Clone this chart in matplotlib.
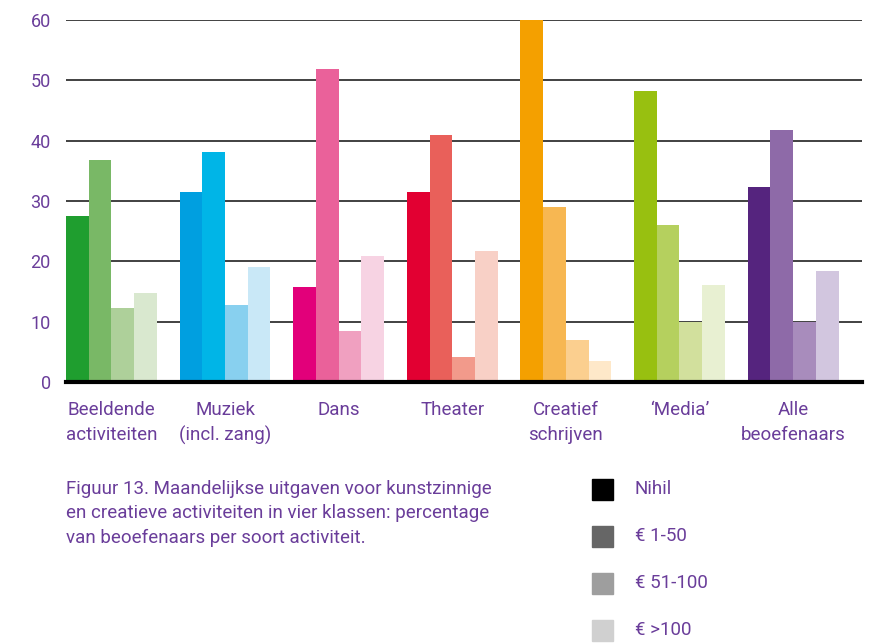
import matplotlib
matplotlib.use("Agg")
import matplotlib.pyplot as plt
import numpy as np

plt.rcParams['font.family'] = ['Roboto', 'DejaVu Sans']

# categories and the four spending classes
categories = ["Beeldende\nactiviteiten", "Muziek\n(incl. zang)", "Dans", "Theater",
              "Creatief\nschrijven", "\u2018Media\u2019", "Alle\nbeoefenaars"]
classes = ["Nihil", "\u20ac 1-50", "\u20ac 51-100", "\u20ac >100"]

nihil = [27.5, 31.5, 15.7, 31.5, 60.0, 48.2, 32.3]
eur_1_50 = [36.8, 38.1, 51.9, 40.9, 29.0, 26.0, 41.7]
eur_51_100 = [12.2, 12.7, 8.4, 4.1, 6.9, 9.9, 10.0]
eur_100plus = [14.7, 19.0, 20.8, 21.7, 3.4, 16.0, 18.4]

# one colour family per category, dark to light
group_colors = [
    ["#1f9e2f", "#79b866", "#aed09a", "#d9e8cf"],
    ["#009fe0", "#00b5e7", "#88d0ef", "#c9e8f7"],
    ["#e2007a", "#ea619a", "#f0a0c0", "#f7d3e3"],
    ["#e20032", "#e9605a", "#f29a8b", "#f8d0c6"],
    ["#f4a000", "#f7b752", "#fbcf8f", "#fee8c9"],
    ["#98c010", "#b5d05e", "#d2e09d", "#e8f0d2"],
    ["#55247e", "#8e6aa8", "#a88cbc", "#d2c6df"],
]
legend_colors = ["#000000", "#666666", "#9e9e9e", "#d0d0d0"]

purple = "#6a3d9a"

fig = plt.figure(figsize=(8.8, 6.43), dpi=100)
ax = fig.add_axes([0.075, 0.406, 0.905, 0.563])

x = np.arange(len(categories))
w = 0.2
series = [nihil, eur_1_50, eur_51_100, eur_100plus]
for k, vals in enumerate(series):
    cols = [group_colors[i][k] for i in range(len(categories))]
    ax.bar(x - 0.3 + k * w, vals, width=w, color=cols, zorder=3, linewidth=0)

ax.set_ylim(0, 60)
ax.set_xlim(-0.4, 6.61)
ax.set_yticks(range(0, 61, 10))
ax.grid(axis='y', color='#333333', linewidth=1.3, zorder=0)
ax.set_xticks(x)
ax.set_xticklabels(categories, color=purple, fontsize=13.5, linespacing=1.45)
ax.tick_params(axis='x', length=0, pad=14)
ax.tick_params(axis='y', length=0, pad=11, labelcolor=purple, labelsize=13)
for s in ['top', 'right', 'left']:
    ax.spines[s].set_visible(False)
ax.spines['bottom'].set_linewidth(3)
ax.spines['bottom'].set_color('black')
ax.spines['bottom'].set_zorder(4)

fig.text(0.075, 1 - 480 / 643,
         "Figuur 13. Maandelijkse uitgaven voor kunstzinnige\n"
         "en creatieve activiteiten in vier klassen: percentage\n"
         "van beoefenaars per soort activiteit.",
         color=purple, fontsize=13.5, linespacing=1.45, va='top', ha='left')

for k, (lab, c) in enumerate(zip(classes, legend_colors)):
    yy = 1 - (490 + k * 47) / 643
    fig.patches.append(plt.Rectangle((592 / 880, yy - 10 / 643), 21 / 880, 21 / 643,
                                     transform=fig.transFigure, color=c))
    fig.text(635 / 880, yy + 1 / 643, lab, color=purple, fontsize=13.5, va='center', ha='left')

fig.savefig("out.png", dpi=100)
